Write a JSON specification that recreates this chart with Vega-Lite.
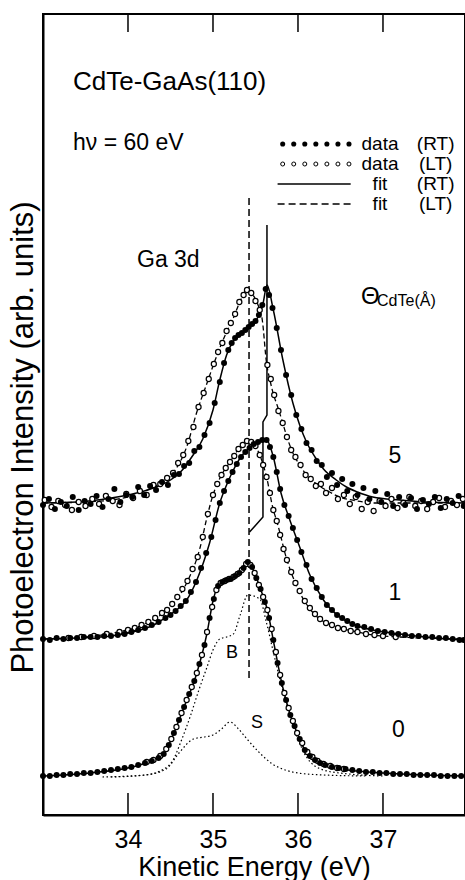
{
"$schema": "https://vega.github.io/schema/vega-lite/v6.json",
"width": 422, "height": 801,
"autosize": {"type": "none"},
"padding": {"left": 43, "top": 14, "right": 0, "bottom": 65},
"background": "white",
"config": {"view": {"stroke": "black", "strokeWidth": 2}, "font": "Liberation Sans",
  "axis": {"grid": false, "domainColor": "black", "tickColor": "black", "labelColor": "black", "titleColor": "black", "labelFont": "Liberation Sans", "titleFont": "Liberation Sans", "titleFontWeight": "normal"}},
"datasets": {
"fits": [
{"s":"R5","k":"RT","e":33.0,"y":312},{"s":"R5","k":"RT","e":33.4,"y":313},{"s":"R5","k":"RT","e":33.8,"y":317},{"s":"R5","k":"RT","e":34.1,"y":322},{"s":"R5","k":"RT","e":34.3,"y":327},{"s":"R5","k":"RT","e":34.5,"y":335},{"s":"R5","k":"RT","e":34.65,"y":346},{"s":"R5","k":"RT","e":34.75,"y":358},{"s":"R5","k":"RT","e":34.88,"y":376},{"s":"R5","k":"RT","e":35.0,"y":405},{"s":"R5","k":"RT","e":35.08,"y":435},{"s":"R5","k":"RT","e":35.16,"y":460},{"s":"R5","k":"RT","e":35.24,"y":474},{"s":"R5","k":"RT","e":35.32,"y":481},{"s":"R5","k":"RT","e":35.4,"y":486},{"s":"R5","k":"RT","e":35.47,"y":491},{"s":"R5","k":"RT","e":35.53,"y":498},{"s":"R5","k":"RT","e":35.59,"y":512},{"s":"R5","k":"RT","e":35.635,"y":530},{"s":"R5","k":"RT","e":35.71,"y":505},{"s":"R5","k":"RT","e":35.82,"y":456},{"s":"R5","k":"RT","e":35.94,"y":412},{"s":"R5","k":"RT","e":36.02,"y":390},{"s":"R5","k":"RT","e":36.1,"y":373},{"s":"R5","k":"RT","e":36.2,"y":358},{"s":"R5","k":"RT","e":36.3,"y":346},{"s":"R5","k":"RT","e":36.45,"y":335},{"s":"R5","k":"RT","e":36.57,"y":328},{"s":"R5","k":"RT","e":36.7,"y":323},{"s":"R5","k":"RT","e":36.88,"y":318},{"s":"R5","k":"RT","e":37.2,"y":315},{"s":"R5","k":"RT","e":37.5,"y":313},{"s":"R5","k":"RT","e":37.965,"y":312},
{"s":"L5","k":"LT","e":33.0,"y":312},{"s":"L5","k":"LT","e":33.5,"y":313},{"s":"L5","k":"LT","e":34.0,"y":318},{"s":"L5","k":"LT","e":34.14,"y":322},{"s":"L5","k":"LT","e":34.3,"y":328},{"s":"L5","k":"LT","e":34.53,"y":342},{"s":"L5","k":"LT","e":34.69,"y":368},{"s":"L5","k":"LT","e":34.81,"y":403},{"s":"L5","k":"LT","e":34.93,"y":432},{"s":"L5","k":"LT","e":35.0,"y":449},{"s":"L5","k":"LT","e":35.08,"y":467},{"s":"L5","k":"LT","e":35.16,"y":483},{"s":"L5","k":"LT","e":35.24,"y":497},{"s":"L5","k":"LT","e":35.32,"y":514},{"s":"L5","k":"LT","e":35.4,"y":525},{"s":"L5","k":"LT","e":35.47,"y":520},{"s":"L5","k":"LT","e":35.53,"y":510},{"s":"L5","k":"LT","e":35.58,"y":495},{"s":"L5","k":"LT","e":35.63,"y":452},{"s":"L5","k":"LT","e":35.67,"y":435},{"s":"L5","k":"LT","e":35.71,"y":421},{"s":"L5","k":"LT","e":35.75,"y":411},{"s":"L5","k":"LT","e":35.81,"y":395},{"s":"L5","k":"LT","e":35.87,"y":378},{"s":"L5","k":"LT","e":35.94,"y":362},{"s":"L5","k":"LT","e":36.02,"y":350},{"s":"L5","k":"LT","e":36.1,"y":340},{"s":"L5","k":"LT","e":36.22,"y":331},{"s":"L5","k":"LT","e":36.35,"y":324},{"s":"L5","k":"LT","e":36.49,"y":318},{"s":"L5","k":"LT","e":36.7,"y":314},{"s":"L5","k":"LT","e":36.88,"y":312},{"s":"L5","k":"LT","e":37.2,"y":312},{"s":"L5","k":"LT","e":37.965,"y":312},
{"s":"R1","k":"RT","e":33.0,"y":176},{"s":"R1","k":"RT","e":33.4,"y":177},{"s":"R1","k":"RT","e":33.8,"y":179},{"s":"R1","k":"RT","e":34.06,"y":183},{"s":"R1","k":"RT","e":34.3,"y":190},{"s":"R1","k":"RT","e":34.45,"y":198},{"s":"R1","k":"RT","e":34.6,"y":207},{"s":"R1","k":"RT","e":34.69,"y":215},{"s":"R1","k":"RT","e":34.81,"y":235},{"s":"R1","k":"RT","e":34.96,"y":272},{"s":"R1","k":"RT","e":35.08,"y":312},{"s":"R1","k":"RT","e":35.16,"y":330},{"s":"R1","k":"RT","e":35.24,"y":345},{"s":"R1","k":"RT","e":35.32,"y":357},{"s":"R1","k":"RT","e":35.4,"y":365},{"s":"R1","k":"RT","e":35.47,"y":370},{"s":"R1","k":"RT","e":35.55,"y":374},{"s":"R1","k":"RT","e":35.63,"y":375},{"s":"R1","k":"RT","e":35.71,"y":358},{"s":"R1","k":"RT","e":35.8,"y":322},{"s":"R1","k":"RT","e":35.9,"y":296},{"s":"R1","k":"RT","e":36.02,"y":268},{"s":"R1","k":"RT","e":36.14,"y":240},{"s":"R1","k":"RT","e":36.3,"y":215},{"s":"R1","k":"RT","e":36.49,"y":198},{"s":"R1","k":"RT","e":36.7,"y":189},{"s":"R1","k":"RT","e":36.88,"y":185},{"s":"R1","k":"RT","e":37.2,"y":181},{"s":"R1","k":"RT","e":37.5,"y":178},{"s":"R1","k":"RT","e":37.965,"y":175},
{"s":"L1","k":"LT","e":33.0,"y":176},{"s":"L1","k":"LT","e":33.5,"y":178},{"s":"L1","k":"LT","e":33.82,"y":182},{"s":"L1","k":"LT","e":34.22,"y":192},{"s":"L1","k":"LT","e":34.49,"y":208},{"s":"L1","k":"LT","e":34.69,"y":232},{"s":"L1","k":"LT","e":34.85,"y":268},{"s":"L1","k":"LT","e":34.93,"y":298},{"s":"L1","k":"LT","e":35.0,"y":320},{"s":"L1","k":"LT","e":35.1,"y":340},{"s":"L1","k":"LT","e":35.2,"y":353},{"s":"L1","k":"LT","e":35.3,"y":366},{"s":"L1","k":"LT","e":35.4,"y":374},{"s":"L1","k":"LT","e":35.47,"y":372},{"s":"L1","k":"LT","e":35.55,"y":360},{"s":"L1","k":"LT","e":35.63,"y":338},{"s":"L1","k":"LT","e":35.71,"y":305},{"s":"L1","k":"LT","e":35.75,"y":294},{"s":"L1","k":"LT","e":35.87,"y":255},{"s":"L1","k":"LT","e":35.99,"y":228},{"s":"L1","k":"LT","e":36.18,"y":202},{"s":"L1","k":"LT","e":36.35,"y":191},{"s":"L1","k":"LT","e":36.49,"y":187},{"s":"L1","k":"LT","e":36.7,"y":183},{"s":"L1","k":"LT","e":36.88,"y":180},{"s":"L1","k":"LT","e":37.2,"y":178},{"s":"L1","k":"LT","e":37.965,"y":176},
{"s":"R0","k":"RT","e":33.0,"y":39},{"s":"R0","k":"RT","e":33.55,"y":42},{"s":"R0","k":"RT","e":34.14,"y":50},{"s":"R0","k":"RT","e":34.41,"y":60},{"s":"R0","k":"RT","e":34.53,"y":80},{"s":"R0","k":"RT","e":34.65,"y":106},{"s":"R0","k":"RT","e":34.81,"y":142},{"s":"R0","k":"RT","e":34.93,"y":182},{"s":"R0","k":"RT","e":35.0,"y":214},{"s":"R0","k":"RT","e":35.05,"y":228},{"s":"R0","k":"RT","e":35.12,"y":234},{"s":"R0","k":"RT","e":35.2,"y":236},{"s":"R0","k":"RT","e":35.28,"y":240},{"s":"R0","k":"RT","e":35.35,"y":246},{"s":"R0","k":"RT","e":35.41,"y":253},{"s":"R0","k":"RT","e":35.47,"y":246},{"s":"R0","k":"RT","e":35.55,"y":228},{"s":"R0","k":"RT","e":35.64,"y":205},{"s":"R0","k":"RT","e":35.72,"y":170},{"s":"R0","k":"RT","e":35.82,"y":128},{"s":"R0","k":"RT","e":35.91,"y":100},{"s":"R0","k":"RT","e":36.02,"y":76},{"s":"R0","k":"RT","e":36.1,"y":62},{"s":"R0","k":"RT","e":36.3,"y":50},{"s":"R0","k":"RT","e":36.5,"y":46},{"s":"R0","k":"RT","e":36.7,"y":44},{"s":"R0","k":"RT","e":37.0,"y":42},{"s":"R0","k":"RT","e":37.5,"y":40},{"s":"R0","k":"RT","e":37.965,"y":39},
{"s":"B","k":"comp","e":33.7,"y":38},{"s":"B","k":"comp","e":34.2,"y":40},{"s":"B","k":"comp","e":34.4,"y":45},{"s":"B","k":"comp","e":34.53,"y":55},{"s":"B","k":"comp","e":34.63,"y":75},{"s":"B","k":"comp","e":34.73,"y":98},{"s":"B","k":"comp","e":34.83,"y":124},{"s":"B","k":"comp","e":34.93,"y":148},{"s":"B","k":"comp","e":35.0,"y":165},{"s":"B","k":"comp","e":35.08,"y":176},{"s":"B","k":"comp","e":35.16,"y":178},{"s":"B","k":"comp","e":35.24,"y":181},{"s":"B","k":"comp","e":35.32,"y":200},{"s":"B","k":"comp","e":35.41,"y":220},{"s":"B","k":"comp","e":35.55,"y":216},{"s":"B","k":"comp","e":35.63,"y":192},{"s":"B","k":"comp","e":35.71,"y":163},{"s":"B","k":"comp","e":35.81,"y":128},{"s":"B","k":"comp","e":35.91,"y":98},{"s":"B","k":"comp","e":36.0,"y":76},{"s":"B","k":"comp","e":36.1,"y":58},{"s":"B","k":"comp","e":36.3,"y":45},{"s":"B","k":"comp","e":36.6,"y":41},{"s":"B","k":"comp","e":37.0,"y":39},
{"s":"S","k":"comp","e":33.8,"y":38},{"s":"S","k":"comp","e":34.2,"y":40},{"s":"S","k":"comp","e":34.45,"y":46},{"s":"S","k":"comp","e":34.6,"y":62},{"s":"S","k":"comp","e":34.77,"y":76},{"s":"S","k":"comp","e":34.9,"y":78},{"s":"S","k":"comp","e":35.0,"y":80},{"s":"S","k":"comp","e":35.1,"y":86},{"s":"S","k":"comp","e":35.2,"y":93},{"s":"S","k":"comp","e":35.3,"y":86},{"s":"S","k":"comp","e":35.4,"y":76},{"s":"S","k":"comp","e":35.55,"y":62},{"s":"S","k":"comp","e":35.7,"y":51},{"s":"S","k":"comp","e":35.85,"y":45},{"s":"S","k":"comp","e":36.0,"y":42},{"s":"S","k":"comp","e":36.3,"y":40},{"s":"S","k":"comp","e":36.8,"y":39}
],
"pts": [
{"k":"RT","e":33.00,"y":310},{"k":"RT","e":33.07,"y":316},{"k":"RT","e":33.14,"y":306},{"k":"RT","e":33.21,"y":313},{"k":"RT","e":33.28,"y":309},{"k":"RT","e":33.35,"y":318},{"k":"RT","e":33.42,"y":305},{"k":"RT","e":33.49,"y":314},{"k":"RT","e":33.56,"y":311},{"k":"RT","e":33.63,"y":319},{"k":"RT","e":33.70,"y":308},{"k":"RT","e":33.77,"y":316},{"k":"RT","e":33.84,"y":326},{"k":"RT","e":33.91,"y":313},{"k":"RT","e":33.98,"y":320},{"k":"RT","e":34.05,"y":318},{"k":"RT","e":34.12,"y":328},{"k":"RT","e":34.19,"y":320},{"k":"RT","e":34.26,"y":329},{"k":"RT","e":34.33,"y":325},{"k":"RT","e":34.40,"y":333},{"k":"RT","e":34.47,"y":330},{"k":"RT","e":34.54,"y":340},{"k":"RT","e":34.60,"y":341},{"k":"RT","e":34.66,"y":349},{"k":"RT","e":34.72,"y":352},{"k":"RT","e":34.78,"y":364},{"k":"RT","e":34.84,"y":368},{"k":"RT","e":34.90,"y":380},{"k":"RT","e":34.96,"y":392},{"k":"RT","e":35.02,"y":412},{"k":"RT","e":35.08,"y":433},{"k":"RT","e":35.13,"y":452},{"k":"RT","e":35.18,"y":465},{"k":"RT","e":35.22,"y":472},{"k":"RT","e":35.26,"y":477},{"k":"RT","e":35.30,"y":480},{"k":"RT","e":35.34,"y":482},{"k":"RT","e":35.38,"y":485},{"k":"RT","e":35.42,"y":488},{"k":"RT","e":35.46,"y":491},{"k":"RT","e":35.50,"y":494},{"k":"RT","e":35.54,"y":500},{"k":"RT","e":35.58,"y":510},{"k":"RT","e":35.62,"y":526},{"k":"RT","e":35.66,"y":520},{"k":"RT","e":35.70,"y":507},{"k":"RT","e":35.75,"y":487},{"k":"RT","e":35.80,"y":465},{"k":"RT","e":35.86,"y":440},{"k":"RT","e":35.92,"y":420},{"k":"RT","e":35.98,"y":400},{"k":"RT","e":36.04,"y":386},{"k":"RT","e":36.10,"y":372},{"k":"RT","e":36.16,"y":365},{"k":"RT","e":36.22,"y":354},{"k":"RT","e":36.28,"y":350},{"k":"RT","e":36.34,"y":338},{"k":"RT","e":36.40,"y":342},{"k":"RT","e":36.46,"y":330},{"k":"RT","e":36.52,"y":336},{"k":"RT","e":36.58,"y":324},{"k":"RT","e":36.64,"y":331},{"k":"RT","e":36.70,"y":320},{"k":"RT","e":36.77,"y":327},{"k":"RT","e":36.84,"y":316},{"k":"RT","e":36.91,"y":324},{"k":"RT","e":36.98,"y":313},{"k":"RT","e":37.05,"y":321},{"k":"RT","e":37.12,"y":309},{"k":"RT","e":37.19,"y":318},{"k":"RT","e":37.26,"y":310},{"k":"RT","e":37.33,"y":317},{"k":"RT","e":37.40,"y":306},{"k":"RT","e":37.47,"y":315},{"k":"RT","e":37.54,"y":311},{"k":"RT","e":37.61,"y":318},{"k":"RT","e":37.68,"y":307},{"k":"RT","e":37.75,"y":316},{"k":"RT","e":37.82,"y":312},{"k":"RT","e":37.89,"y":319},{"k":"RT","e":37.95,"y":309},
{"k":"LT","e":33.02,"y":315},{"k":"LT","e":33.10,"y":308},{"k":"LT","e":33.18,"y":314},{"k":"LT","e":33.26,"y":310},{"k":"LT","e":33.34,"y":305},{"k":"LT","e":33.42,"y":313},{"k":"LT","e":33.50,"y":309},{"k":"LT","e":33.58,"y":316},{"k":"LT","e":33.66,"y":311},{"k":"LT","e":33.74,"y":319},{"k":"LT","e":33.82,"y":314},{"k":"LT","e":33.90,"y":310},{"k":"LT","e":33.98,"y":321},{"k":"LT","e":34.06,"y":317},{"k":"LT","e":34.14,"y":324},{"k":"LT","e":34.22,"y":320},{"k":"LT","e":34.30,"y":330},{"k":"LT","e":34.38,"y":331},{"k":"LT","e":34.46,"y":337},{"k":"LT","e":34.53,"y":342},{"k":"LT","e":34.59,"y":352},{"k":"LT","e":34.65,"y":360},{"k":"LT","e":34.71,"y":374},{"k":"LT","e":34.77,"y":388},{"k":"LT","e":34.83,"y":408},{"k":"LT","e":34.89,"y":422},{"k":"LT","e":34.95,"y":436},{"k":"LT","e":35.01,"y":451},{"k":"LT","e":35.06,"y":463},{"k":"LT","e":35.11,"y":472},{"k":"LT","e":35.16,"y":484},{"k":"LT","e":35.21,"y":492},{"k":"LT","e":35.26,"y":501},{"k":"LT","e":35.31,"y":513},{"k":"LT","e":35.36,"y":520},{"k":"LT","e":35.40,"y":525},{"k":"LT","e":35.45,"y":522},{"k":"LT","e":35.50,"y":514},{"k":"LT","e":35.55,"y":505},{"k":"LT","e":35.64,"y":450},{"k":"LT","e":35.68,"y":436},{"k":"LT","e":35.72,"y":420},{"k":"LT","e":35.77,"y":404},{"k":"LT","e":35.82,"y":392},{"k":"LT","e":35.87,"y":378},{"k":"LT","e":35.92,"y":365},{"k":"LT","e":35.97,"y":358},{"k":"LT","e":36.03,"y":350},{"k":"LT","e":36.09,"y":340},{"k":"LT","e":36.15,"y":336},{"k":"LT","e":36.21,"y":329},{"k":"LT","e":36.27,"y":331},{"k":"LT","e":36.33,"y":322},{"k":"LT","e":36.40,"y":327},{"k":"LT","e":36.47,"y":316},{"k":"LT","e":36.54,"y":320},{"k":"LT","e":36.61,"y":311},{"k":"LT","e":36.68,"y":318},{"k":"LT","e":36.75,"y":306},{"k":"LT","e":36.82,"y":313},{"k":"LT","e":36.89,"y":304},{"k":"LT","e":36.96,"y":314},{"k":"LT","e":37.03,"y":309},{"k":"LT","e":37.10,"y":316},{"k":"LT","e":37.17,"y":307},{"k":"LT","e":37.24,"y":312},{"k":"LT","e":37.31,"y":318},{"k":"LT","e":37.38,"y":309},{"k":"LT","e":37.45,"y":314},{"k":"LT","e":37.52,"y":306},{"k":"LT","e":37.59,"y":313},{"k":"LT","e":37.66,"y":317},{"k":"LT","e":37.73,"y":308},{"k":"LT","e":37.80,"y":314},{"k":"LT","e":37.87,"y":310},{"k":"LT","e":37.94,"y":316},
{"k":"RT","e":33.00,"y":176},{"k":"RT","e":33.08,"y":175},{"k":"RT","e":33.16,"y":177},{"k":"RT","e":33.24,"y":176},{"k":"RT","e":33.32,"y":177},{"k":"RT","e":33.40,"y":177},{"k":"RT","e":33.48,"y":178},{"k":"RT","e":33.56,"y":178},{"k":"RT","e":33.64,"y":178},{"k":"RT","e":33.72,"y":179},{"k":"RT","e":33.80,"y":179},{"k":"RT","e":33.88,"y":180},{"k":"RT","e":33.96,"y":181},{"k":"RT","e":34.04,"y":183},{"k":"RT","e":34.12,"y":185},{"k":"RT","e":34.20,"y":187},{"k":"RT","e":34.28,"y":190},{"k":"RT","e":34.36,"y":193},{"k":"RT","e":34.44,"y":197},{"k":"RT","e":34.50,"y":200},{"k":"RT","e":34.56,"y":204},{"k":"RT","e":34.62,"y":209},{"k":"RT","e":34.68,"y":214},{"k":"RT","e":34.74,"y":223},{"k":"RT","e":34.80,"y":233},{"k":"RT","e":34.86,"y":247},{"k":"RT","e":34.92,"y":262},{"k":"RT","e":34.98,"y":278},{"k":"RT","e":35.03,"y":295},{"k":"RT","e":35.08,"y":312},{"k":"RT","e":35.13,"y":324},{"k":"RT","e":35.18,"y":334},{"k":"RT","e":35.23,"y":343},{"k":"RT","e":35.28,"y":351},{"k":"RT","e":35.33,"y":358},{"k":"RT","e":35.38,"y":363},{"k":"RT","e":35.43,"y":367},{"k":"RT","e":35.48,"y":371},{"k":"RT","e":35.53,"y":373},{"k":"RT","e":35.58,"y":375},{"k":"RT","e":35.63,"y":375},{"k":"RT","e":35.67,"y":368},{"k":"RT","e":35.71,"y":358},{"k":"RT","e":35.75,"y":343},{"k":"RT","e":35.79,"y":326},{"k":"RT","e":35.84,"y":310},{"k":"RT","e":35.89,"y":299},{"k":"RT","e":35.94,"y":287},{"k":"RT","e":35.99,"y":275},{"k":"RT","e":36.04,"y":263},{"k":"RT","e":36.10,"y":250},{"k":"RT","e":36.16,"y":236},{"k":"RT","e":36.22,"y":227},{"k":"RT","e":36.28,"y":218},{"k":"RT","e":36.34,"y":210},{"k":"RT","e":36.40,"y":205},{"k":"RT","e":36.46,"y":200},{"k":"RT","e":36.52,"y":197},{"k":"RT","e":36.58,"y":194},{"k":"RT","e":36.64,"y":191},{"k":"RT","e":36.70,"y":189},{"k":"RT","e":36.78,"y":188},{"k":"RT","e":36.86,"y":186},{"k":"RT","e":36.94,"y":184},{"k":"RT","e":37.02,"y":183},{"k":"RT","e":37.10,"y":182},{"k":"RT","e":37.18,"y":181},{"k":"RT","e":37.26,"y":180},{"k":"RT","e":37.34,"y":179},{"k":"RT","e":37.42,"y":179},{"k":"RT","e":37.50,"y":178},{"k":"RT","e":37.58,"y":178},{"k":"RT","e":37.66,"y":177},{"k":"RT","e":37.74,"y":177},{"k":"RT","e":37.82,"y":176},{"k":"RT","e":37.90,"y":175},{"k":"RT","e":37.95,"y":175},
{"k":"LT","e":33.30,"y":177},{"k":"LT","e":33.45,"y":178},{"k":"LT","e":33.60,"y":179},{"k":"LT","e":33.75,"y":181},{"k":"LT","e":33.90,"y":183},{"k":"LT","e":34.00,"y":185},{"k":"LT","e":34.08,"y":187},{"k":"LT","e":34.16,"y":190},{"k":"LT","e":34.24,"y":193},{"k":"LT","e":34.32,"y":197},{"k":"LT","e":34.40,"y":202},{"k":"LT","e":34.46,"y":205},{"k":"LT","e":34.52,"y":211},{"k":"LT","e":34.58,"y":218},{"k":"LT","e":34.64,"y":226},{"k":"LT","e":34.70,"y":234},{"k":"LT","e":34.76,"y":246},{"k":"LT","e":34.82,"y":258},{"k":"LT","e":34.88,"y":278},{"k":"LT","e":34.94,"y":301},{"k":"LT","e":35.00,"y":320},{"k":"LT","e":35.05,"y":331},{"k":"LT","e":35.10,"y":340},{"k":"LT","e":35.15,"y":347},{"k":"LT","e":35.20,"y":353},{"k":"LT","e":35.25,"y":359},{"k":"LT","e":35.30,"y":366},{"k":"LT","e":35.35,"y":370},{"k":"LT","e":35.40,"y":374},{"k":"LT","e":35.45,"y":373},{"k":"LT","e":35.50,"y":369},{"k":"LT","e":35.55,"y":360},{"k":"LT","e":35.59,"y":350},{"k":"LT","e":35.63,"y":338},{"k":"LT","e":35.67,"y":322},{"k":"LT","e":35.71,"y":305},{"k":"LT","e":35.75,"y":294},{"k":"LT","e":35.79,"y":280},{"k":"LT","e":35.83,"y":266},{"k":"LT","e":35.87,"y":255},{"k":"LT","e":35.92,"y":243},{"k":"LT","e":35.97,"y":232},{"k":"LT","e":36.02,"y":224},{"k":"LT","e":36.08,"y":214},{"k":"LT","e":36.14,"y":207},{"k":"LT","e":36.20,"y":201},{"k":"LT","e":36.26,"y":196},{"k":"LT","e":36.33,"y":192},{"k":"LT","e":36.40,"y":190},{"k":"LT","e":36.47,"y":187},{"k":"LT","e":36.54,"y":186},{"k":"LT","e":36.62,"y":184},{"k":"LT","e":36.70,"y":183},{"k":"LT","e":36.80,"y":181},{"k":"LT","e":36.90,"y":180},{"k":"LT","e":37.00,"y":179},{"k":"LT","e":37.15,"y":178},
{"k":"RT","e":33.00,"y":39},{"k":"RT","e":33.08,"y":39},{"k":"RT","e":33.16,"y":40},{"k":"RT","e":33.24,"y":40},{"k":"RT","e":33.32,"y":41},{"k":"RT","e":33.40,"y":41},{"k":"RT","e":33.48,"y":42},{"k":"RT","e":33.56,"y":42},{"k":"RT","e":33.64,"y":43},{"k":"RT","e":33.72,"y":44},{"k":"RT","e":33.80,"y":45},{"k":"RT","e":33.88,"y":46},{"k":"RT","e":33.96,"y":47},{"k":"RT","e":34.04,"y":48},{"k":"RT","e":34.12,"y":50},{"k":"RT","e":34.20,"y":52},{"k":"RT","e":34.28,"y":54},{"k":"RT","e":34.36,"y":57},{"k":"RT","e":34.42,"y":61},{"k":"RT","e":34.48,"y":70},{"k":"RT","e":34.54,"y":82},{"k":"RT","e":34.60,"y":95},{"k":"RT","e":34.66,"y":108},{"k":"RT","e":34.72,"y":121},{"k":"RT","e":34.78,"y":134},{"k":"RT","e":34.84,"y":151},{"k":"RT","e":34.90,"y":170},{"k":"RT","e":34.96,"y":197},{"k":"RT","e":35.01,"y":216},{"k":"RT","e":35.06,"y":229},{"k":"RT","e":35.11,"y":233},{"k":"RT","e":35.16,"y":235},{"k":"RT","e":35.21,"y":236},{"k":"RT","e":35.26,"y":239},{"k":"RT","e":35.31,"y":242},{"k":"RT","e":35.36,"y":247},{"k":"RT","e":35.41,"y":253},{"k":"RT","e":35.46,"y":248},{"k":"RT","e":35.51,"y":237},{"k":"RT","e":35.56,"y":226},{"k":"RT","e":35.61,"y":213},{"k":"RT","e":35.66,"y":197},{"k":"RT","e":35.71,"y":175},{"k":"RT","e":35.76,"y":152},{"k":"RT","e":35.81,"y":132},{"k":"RT","e":35.86,"y":115},{"k":"RT","e":35.91,"y":100},{"k":"RT","e":35.96,"y":89},{"k":"RT","e":36.02,"y":76},{"k":"RT","e":36.08,"y":65},{"k":"RT","e":36.14,"y":59},{"k":"RT","e":36.20,"y":55},{"k":"RT","e":36.26,"y":52},{"k":"RT","e":36.32,"y":50},{"k":"RT","e":36.40,"y":48},{"k":"RT","e":36.48,"y":47},{"k":"RT","e":36.56,"y":46},{"k":"RT","e":36.64,"y":45},{"k":"RT","e":36.72,"y":44},{"k":"RT","e":36.80,"y":43},{"k":"RT","e":36.88,"y":43},{"k":"RT","e":36.96,"y":42},{"k":"RT","e":37.04,"y":42},{"k":"RT","e":37.12,"y":41},{"k":"RT","e":37.20,"y":41},{"k":"RT","e":37.28,"y":41},{"k":"RT","e":37.36,"y":40},{"k":"RT","e":37.44,"y":40},{"k":"RT","e":37.52,"y":40},{"k":"RT","e":37.60,"y":40},{"k":"RT","e":37.68,"y":39},{"k":"RT","e":37.76,"y":39},{"k":"RT","e":37.84,"y":39},{"k":"RT","e":37.92,"y":39},
{"k":"LT","e":34.22,"y":53},{"k":"LT","e":34.30,"y":55},{"k":"LT","e":34.38,"y":59},{"k":"LT","e":34.45,"y":66},{"k":"LT","e":34.51,"y":76},{"k":"LT","e":34.57,"y":88},{"k":"LT","e":34.63,"y":102},{"k":"LT","e":34.69,"y":115},{"k":"LT","e":34.75,"y":128},{"k":"LT","e":34.81,"y":142},{"k":"LT","e":34.87,"y":160},{"k":"LT","e":34.93,"y":183},{"k":"LT","e":34.99,"y":208},{"k":"LT","e":35.04,"y":225},{"k":"LT","e":35.09,"y":232},{"k":"LT","e":35.14,"y":234},{"k":"LT","e":35.19,"y":236},{"k":"LT","e":35.24,"y":238},{"k":"LT","e":35.29,"y":241},{"k":"LT","e":35.34,"y":245},{"k":"LT","e":35.39,"y":251},{"k":"LT","e":35.44,"y":250},{"k":"LT","e":35.49,"y":242},{"k":"LT","e":35.54,"y":230},{"k":"LT","e":35.59,"y":218},{"k":"LT","e":35.64,"y":205},{"k":"LT","e":35.69,"y":186},{"k":"LT","e":35.74,"y":163},{"k":"LT","e":35.79,"y":140},{"k":"LT","e":35.84,"y":122},{"k":"LT","e":35.89,"y":107},{"k":"LT","e":35.94,"y":94},{"k":"LT","e":35.99,"y":82},{"k":"LT","e":36.05,"y":72},{"k":"LT","e":36.11,"y":63},{"k":"LT","e":36.17,"y":58},{"k":"LT","e":36.23,"y":54},{"k":"LT","e":36.30,"y":51},{"k":"LT","e":36.38,"y":49},{"k":"LT","e":36.46,"y":47},{"k":"LT","e":36.54,"y":46}
],
"vdash": [{"e":35.424,"y":617},{"e":35.424,"y":133}],
"vsolid": [{"i":1,"e":35.635,"y":590},{"i":2,"e":35.635,"y":400},{"i":3,"e":35.588,"y":393},{"i":4,"e":35.588,"y":298},{"i":5,"e":35.43,"y":283}],
"frameticks": [{"e":34,"y":801,"y2":783},{"e":35,"y":801,"y2":783},{"e":36,"y":801,"y2":783},{"e":37,"y":801,"y2":783},{"e":34,"y":0,"y2":22},{"e":35,"y":0,"y2":22},{"e":36,"y":0,"y2":22},{"e":37,"y":0,"y2":22}],
"legpts": [
{"k":"RT","e":35.82,"y":671},{"k":"RT","e":35.95,"y":671},{"k":"RT","e":36.08,"y":671},{"k":"RT","e":36.21,"y":671},{"k":"RT","e":36.34,"y":671},{"k":"RT","e":36.47,"y":671},{"k":"RT","e":36.60,"y":671},
{"k":"LT","e":35.82,"y":651},{"k":"LT","e":35.95,"y":651},{"k":"LT","e":36.08,"y":651},{"k":"LT","e":36.21,"y":651},{"k":"LT","e":36.34,"y":651},{"k":"LT","e":36.47,"y":651},{"k":"LT","e":36.60,"y":651}],
"leglines": [{"k":"RT","e":35.76,"y":631},{"k":"RT","e":36.62,"y":631},{"k":"LT","e":35.76,"y":611},{"k":"LT","e":36.62,"y":611}],
"texts": [
{"r":"title","t":"CdTe-GaAs(110)","e":33.353,"y":733},
{"r":"sub","t":"hν = 60 eV","e":33.353,"y":672},
{"r":"sub","t":"Ga 3d","e":34.106,"y":555},
{"r":"theta","t":"Θ","e":36.74,"y":518},
{"r":"thetasub","t":"CdTe(Å)","e":36.93,"y":514},
{"r":"num","t":"5","e":37.14,"y":359},
{"r":"num","t":"1","e":37.14,"y":222},
{"r":"num","t":"0","e":37.18,"y":85},
{"r":"comp","t":"B","e":35.224,"y":162},
{"r":"comp","t":"S","e":35.518,"y":92},
{"r":"leg","t":"data","e":36.965,"y":671},
{"r":"leg","t":"data","e":36.965,"y":651},
{"r":"leg","t":"fit","e":36.965,"y":631},
{"r":"leg","t":"fit","e":36.965,"y":611},
{"r":"leg","t":"(RT)","e":37.62,"y":671},
{"r":"leg","t":"(LT)","e":37.62,"y":651},
{"r":"leg","t":"(RT)","e":37.62,"y":631},
{"r":"leg","t":"(LT)","e":37.62,"y":611}
]
},
"layer": [
{"data": {"name": "fits"}, "transform": [{"filter": "datum.k == 'RT'"}],
 "mark": {"type": "line", "interpolate": "monotone", "color": "black", "strokeWidth": 1.5},
 "encoding": {
  "x": {"field": "e", "type": "quantitative", "scale": {"domain": [33, 37.965], "nice": false, "zero": false},
        "axis": {"orient": "bottom", "values": [34, 35, 36, 37], "format": "d", "ticks": false, "domainWidth": 2, "labelFontSize": 25, "labelPadding": 12, "labelFlush": false, "title": "Kinetic Energy (eV)", "titleFontSize": 27, "titlePadding": 2}},
  "y": {"field": "y", "type": "quantitative", "scale": {"domain": [0, 801], "nice": false, "zero": false},
        "axis": {"orient": "left", "ticks": false, "labels": false, "domainWidth": 2, "title": "Photoelectron Intensity (arb. units)", "titleFontSize": 31, "titlePadding": 4, "titleY": 423}},
  "detail": {"field": "s"}}},
{"data": {"name": "frameticks"},
 "mark": {"type": "rule", "color": "black", "strokeWidth": 1.5},
 "encoding": {"x": {"field": "e", "type": "quantitative"}, "y": {"field": "y", "type": "quantitative"}, "y2": {"field": "y2"}}},
{"data": {"name": "fits"}, "transform": [{"filter": "datum.k == 'LT'"}],
 "mark": {"type": "line", "interpolate": "monotone", "color": "black", "strokeWidth": 1.3, "strokeDash": [5, 3]},
 "encoding": {"x": {"field": "e", "type": "quantitative"}, "y": {"field": "y", "type": "quantitative"}, "detail": {"field": "s"}}},
{"data": {"name": "fits"}, "transform": [{"filter": "datum.k == 'comp'"}],
 "mark": {"type": "line", "interpolate": "monotone", "color": "black", "strokeWidth": 1.2, "strokeDash": [1.5, 2.5]},
 "encoding": {"x": {"field": "e", "type": "quantitative"}, "y": {"field": "y", "type": "quantitative"}, "detail": {"field": "s"}}},
{"data": {"name": "vdash"},
 "mark": {"type": "line", "color": "black", "strokeWidth": 1.5, "strokeDash": [7, 4]},
 "encoding": {"x": {"field": "e", "type": "quantitative"}, "y": {"field": "y", "type": "quantitative"}}},
{"data": {"name": "vsolid"},
 "mark": {"type": "line", "color": "black", "strokeWidth": 1.5},
 "encoding": {"x": {"field": "e", "type": "quantitative"}, "y": {"field": "y", "type": "quantitative"}, "order": {"field": "i", "type": "quantitative"}}},
{"data": {"name": "pts"}, "transform": [{"filter": "datum.k == 'LT'"}],
 "mark": {"type": "point", "shape": "circle", "filled": false, "fill": "white", "stroke": "black", "strokeWidth": 1.2, "size": 26, "opacity": 1},
 "encoding": {"x": {"field": "e", "type": "quantitative"}, "y": {"field": "y", "type": "quantitative"}}},
{"data": {"name": "pts"}, "transform": [{"filter": "datum.k == 'RT'"}],
 "mark": {"type": "point", "shape": "circle", "filled": true, "color": "black", "size": 36, "opacity": 1},
 "encoding": {"x": {"field": "e", "type": "quantitative"}, "y": {"field": "y", "type": "quantitative"}}},
{"data": {"name": "legpts"}, "transform": [{"filter": "datum.k == 'RT'"}],
 "mark": {"type": "point", "shape": "circle", "filled": true, "color": "black", "size": 26, "opacity": 1},
 "encoding": {"x": {"field": "e", "type": "quantitative"}, "y": {"field": "y", "type": "quantitative"}}},
{"data": {"name": "legpts"}, "transform": [{"filter": "datum.k == 'LT'"}],
 "mark": {"type": "point", "shape": "circle", "filled": false, "fill": "white", "stroke": "black", "strokeWidth": 1, "size": 16, "opacity": 1},
 "encoding": {"x": {"field": "e", "type": "quantitative"}, "y": {"field": "y", "type": "quantitative"}}},
{"data": {"name": "leglines"}, "transform": [{"filter": "datum.k == 'RT'"}],
 "mark": {"type": "line", "color": "black", "strokeWidth": 1.5},
 "encoding": {"x": {"field": "e", "type": "quantitative"}, "y": {"field": "y", "type": "quantitative"}}},
{"data": {"name": "leglines"}, "transform": [{"filter": "datum.k == 'LT'"}],
 "mark": {"type": "line", "color": "black", "strokeWidth": 1.5, "strokeDash": [7, 4]},
 "encoding": {"x": {"field": "e", "type": "quantitative"}, "y": {"field": "y", "type": "quantitative"}}},
{"data": {"name": "texts"}, "transform": [{"filter": "datum.r == 'title'"}],
 "mark": {"type": "text", "align": "left", "baseline": "middle", "fontSize": 26, "font": "Liberation Sans", "color": "black"},
 "encoding": {"x": {"field": "e", "type": "quantitative"}, "y": {"field": "y", "type": "quantitative"}, "text": {"field": "t"}}},
{"data": {"name": "texts"}, "transform": [{"filter": "datum.r == 'sub'"}],
 "mark": {"type": "text", "align": "left", "baseline": "middle", "fontSize": 23, "font": "Liberation Sans", "color": "black"},
 "encoding": {"x": {"field": "e", "type": "quantitative"}, "y": {"field": "y", "type": "quantitative"}, "text": {"field": "t"}}},
{"data": {"name": "texts"}, "transform": [{"filter": "datum.r == 'theta'"}],
 "mark": {"type": "text", "align": "left", "baseline": "middle", "fontSize": 24, "font": "Liberation Sans", "color": "black"},
 "encoding": {"x": {"field": "e", "type": "quantitative"}, "y": {"field": "y", "type": "quantitative"}, "text": {"field": "t"}}},
{"data": {"name": "texts"}, "transform": [{"filter": "datum.r == 'thetasub'"}],
 "mark": {"type": "text", "align": "left", "baseline": "middle", "fontSize": 16, "font": "Liberation Sans", "color": "black"},
 "encoding": {"x": {"field": "e", "type": "quantitative"}, "y": {"field": "y", "type": "quantitative"}, "text": {"field": "t"}}},
{"data": {"name": "texts"}, "transform": [{"filter": "datum.r == 'num'"}],
 "mark": {"type": "text", "align": "center", "baseline": "middle", "fontSize": 23, "font": "Liberation Sans", "color": "black"},
 "encoding": {"x": {"field": "e", "type": "quantitative"}, "y": {"field": "y", "type": "quantitative"}, "text": {"field": "t"}}},
{"data": {"name": "texts"}, "transform": [{"filter": "datum.r == 'comp'"}],
 "mark": {"type": "text", "align": "center", "baseline": "middle", "fontSize": 18, "font": "Liberation Sans", "color": "black"},
 "encoding": {"x": {"field": "e", "type": "quantitative"}, "y": {"field": "y", "type": "quantitative"}, "text": {"field": "t"}}},
{"data": {"name": "texts"}, "transform": [{"filter": "datum.r == 'leg'"}],
 "mark": {"type": "text", "align": "center", "baseline": "middle", "fontSize": 19, "font": "Liberation Sans", "color": "black"},
 "encoding": {"x": {"field": "e", "type": "quantitative"}, "y": {"field": "y", "type": "quantitative"}, "text": {"field": "t"}}}
]
}
